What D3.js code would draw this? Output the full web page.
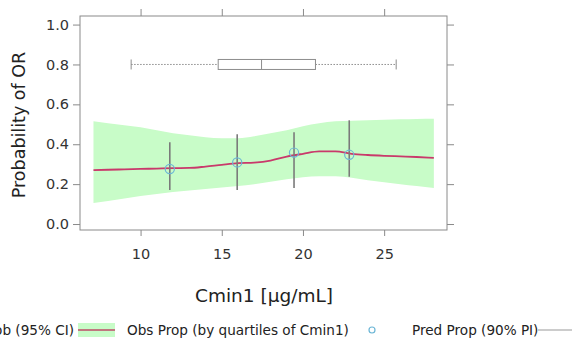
<!DOCTYPE html>
<html>
<head>
<meta charset="utf-8">
<script src="https://cdn.jsdelivr.net/npm/d3@7"></script>
<style>
  html, body { margin: 0; padding: 0; background: #fff; }
  svg { display: block; }
  text { font-family: "DejaVu Sans", Verdana, sans-serif; }
</style>
</head>
<body>
<svg id="chart" width="572" height="339"></svg>
<script>
// Model-predicted probability curve with its 95% band
const bandX      = [7.1, 8, 9, 10, 11, 12, 13, 14, 15, 16, 17, 18, 19, 20, 21, 22, 23, 24, 25, 26, 27, 28.06];
const bandLower  = [0.105, 0.115, 0.128, 0.14, 0.15, 0.16, 0.168, 0.176, 0.183, 0.19, 0.2, 0.212, 0.225, 0.235, 0.24, 0.24, 0.232, 0.22, 0.21, 0.2, 0.19, 0.18];
const bandUpper  = [0.515, 0.505, 0.495, 0.485, 0.47, 0.455, 0.445, 0.435, 0.43, 0.43, 0.44, 0.455, 0.47, 0.49, 0.505, 0.515, 0.518, 0.52, 0.523, 0.525, 0.527, 0.528];
const bandMedian = [0.27, 0.272, 0.274, 0.276, 0.278, 0.28, 0.281, 0.288, 0.297, 0.305, 0.308, 0.318, 0.338, 0.352, 0.364, 0.364, 0.352, 0.346, 0.342, 0.339, 0.336, 0.332];

// Observed proportions by Cmin1 quartile, with 90% intervals
const obsX     = [11.8, 15.95, 19.45, 22.85];
const obsProp  = [0.276, 0.309, 0.358, 0.347];
const obsLower = [0.17, 0.17, 0.18, 0.237];
const obsUpper = [0.41, 0.45, 0.46, 0.52];

// Distribution of Cmin1 (box plot drawn at the top)
const boxStats = { min: 9.42, q1: 14.78, median: 17.45, q3: 20.77, max: 25.74 };
const boxLevel = 0.8;

const xTicks = [10, 15, 20, 25];
const yTicks = [0, 0.2, 0.4, 0.6, 0.8, 1.0];

const legendItems = ["Pred Prob (95% CI)", "Obs Prop (by quartiles of Cmin1)", "Pred Prop (90% PI)"];

const svg = d3.select("#chart");
const frame = { left: 80, right: 447, top: 16, bottom: 230 };

const x = d3.scaleLinear().domain([6.27, 28.87]).range([frame.left, frame.right]);
const y = d3.scaleLinear().domain([-0.03, 1.043]).range([frame.bottom, frame.top]);

const axisColor = "#8a8a8a";
const textColor = "#333";

// prediction band
const bandData = bandX.map((v, i) => ({ x: v, lo: bandLower[i], hi: bandUpper[i], md: bandMedian[i] }));
svg.append("path")
  .datum(bandData)
  .attr("fill", "#c8fcc8")
  .attr("d", d3.area().x(d => x(d.x)).y0(d => y(d.lo)).y1(d => y(d.hi)).curve(d3.curveMonotoneX));

svg.append("path")
  .datum(bandData)
  .attr("fill", "none")
  .attr("stroke", "#c9396b")
  .attr("stroke-width", 1.8)
  .attr("d", d3.line().x(d => x(d.x)).y(d => y(d.md)).curve(d3.curveMonotoneX));

// observed interval bars
svg.append("g").selectAll("line")
  .data(obsX)
  .join("line")
  .attr("x1", d => x(d)).attr("x2", d => x(d))
  .attr("y1", (d, i) => y(obsLower[i]))
  .attr("y2", (d, i) => y(obsUpper[i]))
  .attr("stroke", "#7a7a7a")
  .attr("stroke-width", 1.6);

// observed proportions
svg.append("g").selectAll("circle")
  .data(obsX)
  .join("circle")
  .attr("cx", d => x(d))
  .attr("cy", (d, i) => y(obsProp[i]))
  .attr("r", 4.6)
  .attr("fill", "none")
  .attr("stroke", "#6cb6d6")
  .attr("stroke-width", 1.2);

// box plot of Cmin1
const by = y(boxLevel);
const bh = 5;
const bp = svg.append("g").attr("stroke", "#8c8c8c").attr("fill", "none");
bp.append("line")
  .attr("x1", x(boxStats.min)).attr("x2", x(boxStats.q1))
  .attr("y1", by).attr("y2", by)
  .attr("stroke-dasharray", "1.5,1.5");
bp.append("line")
  .attr("x1", x(boxStats.q3)).attr("x2", x(boxStats.max))
  .attr("y1", by).attr("y2", by)
  .attr("stroke-dasharray", "1.5,1.5");
[boxStats.min, boxStats.max].forEach(v => {
  bp.append("line").attr("x1", x(v)).attr("x2", x(v)).attr("y1", by - bh).attr("y2", by + bh);
});
bp.append("rect")
  .attr("x", x(boxStats.q1)).attr("y", by - bh)
  .attr("width", x(boxStats.q3) - x(boxStats.q1)).attr("height", 2 * bh)
  .attr("fill", "#fff");
bp.append("line")
  .attr("x1", x(boxStats.median)).attr("x2", x(boxStats.median))
  .attr("y1", by - bh).attr("y2", by + bh);

// frame
svg.append("rect")
  .attr("x", frame.left).attr("y", frame.top)
  .attr("width", frame.right - frame.left).attr("height", frame.bottom - frame.top)
  .attr("fill", "none").attr("stroke", axisColor).attr("stroke-width", 1);

function styleAxis(g, showText) {
  g.select(".domain").remove();
  g.selectAll(".tick line").attr("stroke", axisColor);
  g.selectAll(".tick text")
    .attr("fill", textColor)
    .style("font-size", "14.5px")
    .style("font-family", "'DejaVu Sans', Verdana, sans-serif")
    .style("display", showText ? null : "none");
}

svg.append("g").attr("transform", `translate(${frame.left},0)`)
  .call(d3.axisLeft(y).tickValues(yTicks).tickFormat(d3.format(".1f")).tickSize(7).tickPadding(4))
  .call(g => styleAxis(g, true));
svg.append("g").attr("transform", `translate(${frame.right},0)`)
  .call(d3.axisRight(y).tickValues(yTicks).tickSize(7))
  .call(g => styleAxis(g, false));
svg.append("g").attr("transform", `translate(0,${frame.bottom})`)
  .call(d3.axisBottom(x).tickValues(xTicks).tickSize(6).tickPadding(13))
  .call(g => styleAxis(g, true));
svg.append("g").attr("transform", `translate(0,${frame.top})`)
  .call(d3.axisTop(x).tickValues(xTicks).tickSize(7))
  .call(g => styleAxis(g, false));

// axis titles
svg.append("text")
  .attr("transform", `translate(25,${(frame.top + frame.bottom) / 2 + 2}) rotate(-90)`)
  .attr("text-anchor", "middle")
  .attr("fill", "#222")
  .style("font-size", "17.5px")
  .text("Probability of OR");

svg.append("text")
  .attr("x", 264).attr("y", 302)
  .attr("text-anchor", "middle")
  .attr("fill", "#222")
  .style("font-size", "18.5px")
  .text("Cmin1 [µg/mL]");

// legend
const ly = 330;
const lg = svg.append("g").style("font-size", "13.6px").attr("fill", "#222");
lg.append("text").attr("x", 74).attr("y", ly + 4.8).attr("text-anchor", "end").text(legendItems[0]);
lg.append("rect").attr("x", 78).attr("y", ly - 7).attr("width", 37).attr("height", 14).attr("fill", "#c8fcc8");
lg.append("line").attr("x1", 78).attr("x2", 115).attr("y1", ly).attr("y2", ly)
  .attr("stroke", "#c07880").attr("stroke-width", 2);
lg.append("text").attr("x", 127).attr("y", ly + 4.8).text(legendItems[1]);
lg.append("circle").attr("cx", 372).attr("cy", ly).attr("r", 3)
  .attr("fill", "none").attr("stroke", "#6cb6d6").attr("stroke-width", 1.2);
lg.append("text").attr("x", 412).attr("y", ly + 4.8).text(legendItems[2]);
lg.append("line").attr("x1", 538).attr("x2", 572).attr("y1", ly).attr("y2", ly)
  .attr("stroke", "#999").attr("stroke-width", 1);
</script>
</body>
</html>
